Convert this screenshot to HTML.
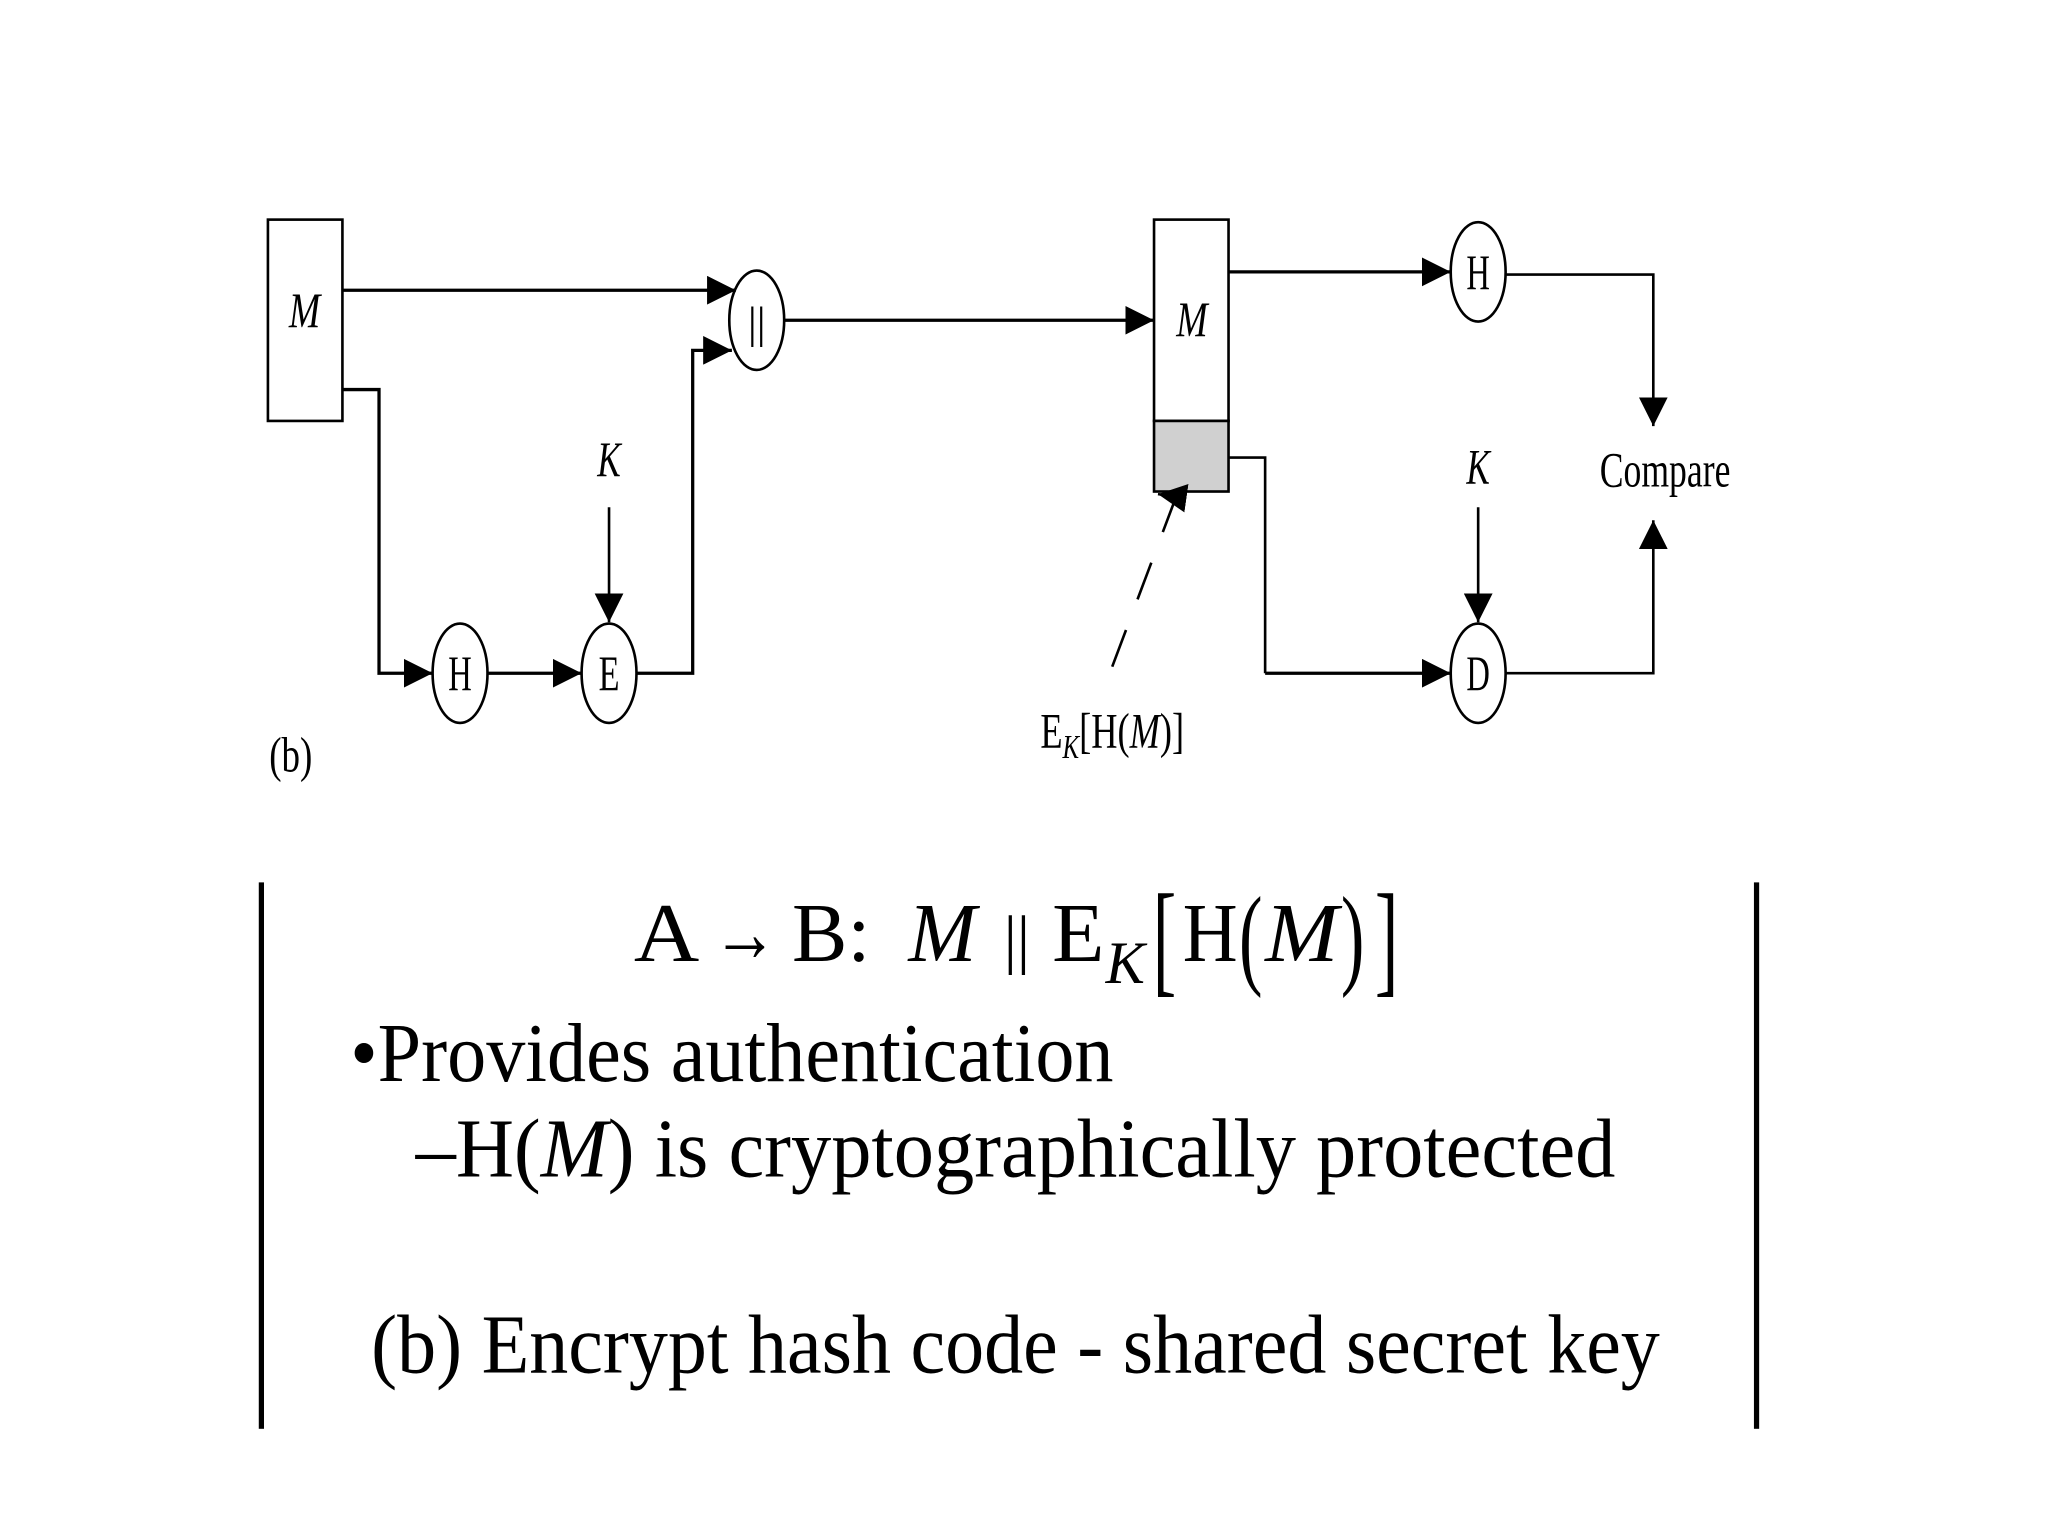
<!DOCTYPE html>
<html><head><meta charset="utf-8"><style>html,body{margin:0;padding:0;background:#fff}svg{display:block}</style></head>
<body>
<svg width="2048" height="1536" viewBox="0 0 1567 1175" preserveAspectRatio="none" xmlns="http://www.w3.org/2000/svg" font-family="Liberation Serif, serif">
<defs>
<marker id="a" viewBox="0 0 10 10" refX="10" refY="5" markerWidth="22" markerHeight="22" markerUnits="userSpaceOnUse" orient="auto"><path d="M0,0 L10,5 L0,10 z" fill="#000"/></marker>
</defs>
<rect width="1567" height="1175" fill="#fff"/>
<g stroke="#000" fill="none" stroke-width="2">
<rect x="205" y="168" width="57" height="154" fill="#fff"/>
<rect x="883" y="168" width="57" height="154" fill="#fff"/>
<rect x="883" y="322" width="57" height="54" fill="#d0d0d0"/>
<ellipse cx="579" cy="245" rx="21" ry="38"/>
<ellipse cx="352" cy="515" rx="21" ry="38"/>
<ellipse cx="466" cy="515" rx="21" ry="38"/>
<ellipse cx="1131" cy="208" rx="21" ry="38"/>
<ellipse cx="1131" cy="515" rx="21" ry="38"/>
<g stroke-width="2.5">
<path d="M262,222 H563" marker-end="url(#a)"/>
<path d="M262,298 H290 V515 H331" marker-end="url(#a)"/>
<path d="M373,515 H445" marker-end="url(#a)"/>
<path d="M487,515 H530 V268 H560" marker-end="url(#a)"/>
<path d="M600,245 H883" marker-end="url(#a)"/>
<path d="M940,208 H1110" marker-end="url(#a)"/>
<path d="M968,515 H1110" marker-end="url(#a)"/>
</g>
<path d="M466,388 V476" marker-end="url(#a)"/>
<path d="M1131,388 V476" marker-end="url(#a)"/>
<path d="M1152,210 H1265 V326" marker-end="url(#a)"/>
<path d="M1152,515 H1265 V398" marker-end="url(#a)"/>
<path d="M940,350 H968 V515"/>
<path d="M851,510 L898,385" stroke-dasharray="30,25"/>
<path d="M900,380 L886,378" marker-end="url(#a)"/>
</g>
<g font-size="38" fill="#000">
<text x="233" y="250" text-anchor="middle" font-style="italic" textLength="24" lengthAdjust="spacingAndGlyphs">M</text>
<text x="912" y="257" text-anchor="middle" font-style="italic" textLength="24" lengthAdjust="spacingAndGlyphs">M</text>
<text x="579" y="258" text-anchor="middle" font-size="34">||</text>
<text x="352" y="528" text-anchor="middle" textLength="18" lengthAdjust="spacingAndGlyphs">H</text>
<text x="466" y="528" text-anchor="middle" textLength="16" lengthAdjust="spacingAndGlyphs">E</text>
<text x="1131" y="221" text-anchor="middle" textLength="18" lengthAdjust="spacingAndGlyphs">H</text>
<text x="1131" y="528" text-anchor="middle" textLength="18" lengthAdjust="spacingAndGlyphs">D</text>
<text x="466" y="364" text-anchor="middle" font-style="italic" textLength="18" lengthAdjust="spacingAndGlyphs">K</text>
<text x="1131" y="370" text-anchor="middle" font-style="italic" textLength="18" lengthAdjust="spacingAndGlyphs">K</text>
<text x="1224" y="372" textLength="100" lengthAdjust="spacingAndGlyphs">Compare</text>
<text x="206" y="590" textLength="33" lengthAdjust="spacingAndGlyphs">(b)</text>
<text x="796" y="572" textLength="110" lengthAdjust="spacingAndGlyphs">E<tspan font-size="26" font-style="italic" dy="8">K</tspan><tspan dy="-8">[H(</tspan><tspan font-style="italic">M</tspan>)]</text>
</g>
<rect x="198" y="675" width="4" height="418" fill="#000"/>
<rect x="1342" y="675" width="4" height="418" fill="#000"/>
<g fill="#000" font-size="64">
<text x="485" y="735" textLength="50" lengthAdjust="spacingAndGlyphs">A</text>
<text x="545" y="735" textLength="50" lengthAdjust="spacingAndGlyphs">→</text>
<text x="606" y="735" textLength="60" lengthAdjust="spacingAndGlyphs">B:</text>
<text x="695" y="735" font-style="italic" textLength="52" lengthAdjust="spacingAndGlyphs">M</text>
<text x="768" y="735" font-size="50">||</text>
<text x="805" y="735" textLength="40" lengthAdjust="spacingAndGlyphs">E</text>
<text x="846" y="752" font-style="italic" font-size="46" textLength="30" lengthAdjust="spacingAndGlyphs">K</text>
<text x="882" y="750" font-size="96" textLength="18" lengthAdjust="spacingAndGlyphs">[</text>
<text x="905" y="735" textLength="42" lengthAdjust="spacingAndGlyphs">H</text>
<text x="948" y="745" font-size="86" textLength="18" lengthAdjust="spacingAndGlyphs">(</text>
<text x="968" y="735" font-style="italic" textLength="56" lengthAdjust="spacingAndGlyphs">M</text>
<text x="1026" y="745" font-size="86" textLength="18" lengthAdjust="spacingAndGlyphs">)</text>
<text x="1052" y="750" font-size="96" textLength="18" lengthAdjust="spacingAndGlyphs">]</text>
<text x="268" y="827" textLength="584" lengthAdjust="spacingAndGlyphs">•Provides authentication</text>
<text x="318" y="900" textLength="918" lengthAdjust="spacingAndGlyphs">–H(<tspan font-style="italic">M</tspan>) is cryptographically protected</text>
<text x="284" y="1050" textLength="986" lengthAdjust="spacingAndGlyphs">(b) Encrypt hash code - shared secret key</text>
</g>
</svg>
</body></html>
